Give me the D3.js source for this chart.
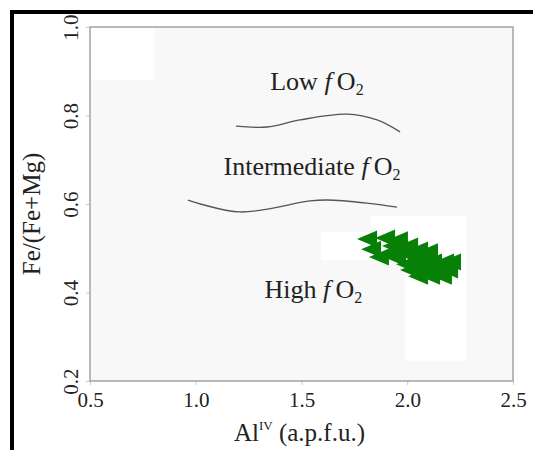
<!DOCTYPE html>
<html>
<head>
<meta charset="utf-8">
<script src="https://cdn.jsdelivr.net/npm/d3@7"></script>
<style>
  html, body { margin: 0; padding: 0; background: #fff; }
  svg { display: block; }
  text { font-family: "Liberation Serif", "Times New Roman", serif; fill: #222; }
</style>
</head>
<body>
<svg id="chart" width="533" height="450"></svg>
<script>
// ---- data ----
const xTicks = [0.5, 1.0, 1.5, 2.0, 2.5];
const yTicks = [0.2, 0.4, 0.6, 0.8, 1.0];
const xTickLabels = ["0.5", "1.0", "1.5", "2.0", "2.5"];
const yTickLabels = ["0.2", "0.4", "0.6", "0.8", "1.0"];

// sample points (Al IV, Fe/(Fe+Mg))
const sampleAl = [1.810, 1.829, 1.866, 1.895, 1.928, 1.909, 1.956, 1.975, 1.947, 2.004, 2.022, 2.051, 1.994, 2.041, 2.079, 2.098, 2.117, 2.070, 2.136, 2.174, 2.193, 2.108, 2.051, 2.164, 2.207, 2.013];
const sampleFe = [0.521, 0.498, 0.480, 0.523, 0.505, 0.487, 0.519, 0.496, 0.478, 0.505, 0.482, 0.496, 0.464, 0.464, 0.478, 0.492, 0.469, 0.451, 0.455, 0.469, 0.451, 0.437, 0.437, 0.437, 0.469, 0.451];

// boundary Low / Intermediate fO2
const upperLineX = [1.190, 1.337, 1.493, 1.715, 1.857, 1.966];
const upperLineY = [0.776, 0.774, 0.790, 0.803, 0.790, 0.763];
// boundary Intermediate / High fO2
const lowerLineX = [0.963, 1.209, 1.540, 1.621, 1.810, 1.952];
const lowerLineY = [0.609, 0.582, 0.607, 0.609, 0.602, 0.593];

// field labels
const fieldNames = ["Low ", "Intermediate ", "High "];
const fieldX = [1.573, 1.550, 1.556];
const fieldY = [0.858, 0.666, 0.388];

// ---- layout ----
const svg = d3.select("#chart");
const m = { left: 90, right: 513, top: 27, bottom: 381 };
const x = d3.scaleLinear().domain([0.5, 2.5]).range([m.left, m.right]);
const y = d3.scaleLinear().domain([0.2, 1.0]).range([m.bottom, m.top]);

// outer black frame (left & top)
svg.append("path")
  .attr("d", "M12,450 L12,12 L533,12")
  .attr("fill", "none").attr("stroke", "#000").attr("stroke-width", 4);

// plot background
svg.append("rect")
  .attr("x", m.left).attr("y", m.top)
  .attr("width", m.right - m.left).attr("height", m.bottom - m.top)
  .attr("fill", "#f8f8f8");

// lighter patches of the scanned background
const patchX0 = [0.5, 1.829, 1.592, 1.989];
const patchX1 = [0.805, 2.278, 2.278, 2.278];
const patchY0 = [0.88, 0.537, 0.473, 0.245];
const patchY1 = [1.0, 0.573, 0.537, 0.473];
patchX0.forEach((d, i) => {
  svg.append("rect")
    .attr("x", x(patchX0[i])).attr("y", y(patchY1[i]))
    .attr("width", x(patchX1[i]) - x(patchX0[i]))
    .attr("height", y(patchY0[i]) - y(patchY1[i]))
    .attr("fill", "#ffffff");
});

// axes
const xAxis = d3.axisBottom(x).tickValues(xTicks).tickFormat((d, i) => xTickLabels[i]).tickSize(4).tickPadding(8);
const yAxis = d3.axisLeft(y).tickValues(yTicks).tickFormat((d, i) => yTickLabels[i]).tickSize(4).tickPadding(8);

const gx = svg.append("g").attr("transform", `translate(0,${m.bottom})`).call(xAxis);
gx.select(".domain").remove();
gx.selectAll(".tick line").attr("stroke", "#c8c8c8");
gx.selectAll(".tick text")
  .attr("fill", "#222").attr("font-size", 21)
  .attr("font-family", "Liberation Serif, serif")
  .attr("dy", null).attr("y", 26);

const gy = svg.append("g").attr("transform", `translate(${m.left},0)`).call(yAxis);
gy.select(".domain").remove();
gy.selectAll(".tick line").attr("stroke", "#c8c8c8");
gy.selectAll(".tick text")
  .attr("fill", "#222").attr("font-size", 21)
  .attr("font-family", "Liberation Serif, serif")
  .attr("x", null).attr("dy", null)
  .attr("text-anchor", "middle")
  .attr("transform", "translate(-12,0) rotate(-90)");

// plot frame
svg.append("rect")
  .attr("x", m.left).attr("y", m.top)
  .attr("width", m.right - m.left).attr("height", m.bottom - m.top)
  .attr("fill", "none").attr("stroke", "#a8a8a8").attr("stroke-width", 1.6);

// boundary curves
const line = d3.line().x(d => x(d[0])).y(d => y(d[1])).curve(d3.curveCatmullRom.alpha(0.5));
svg.append("path")
  .attr("d", line(upperLineX.map((d, i) => [d, upperLineY[i]])))
  .attr("fill", "none").attr("stroke", "#555").attr("stroke-width", 1.3);
svg.append("path")
  .attr("d", line(lowerLineX.map((d, i) => [d, lowerLineY[i]])))
  .attr("fill", "none").attr("stroke", "#555").attr("stroke-width", 1.3);

// field labels
fieldNames.forEach((name, i) => {
  const t = svg.append("text")
    .attr("x", x(fieldX[i])).attr("y", y(fieldY[i]))
    .attr("text-anchor", "middle").attr("font-size", 26);
  t.append("tspan").text(name);
  t.append("tspan").attr("font-style", "italic").text("f");
  t.append("tspan").text("\u2009O");
  t.append("tspan").attr("font-size", 16).attr("dy", 5).text("2");
});

// sample markers: left-pointing triangles
const triW = 20, triH = 17;
svg.append("g").selectAll("path")
  .data(sampleAl.map((d, i) => [d, sampleFe[i]]))
  .join("path")
  .attr("transform", d => `translate(${x(d[0])},${y(d[1])})`)
  .attr("d", `M${-triW / 2},0 L${triW / 2},${-triH / 2} L${triW / 2},${triH / 2} Z`)
  .attr("fill", "#088008");

// axis titles
const xt = svg.append("text")
  .attr("x", (m.left + m.right) / 2 - 2).attr("y", 441)
  .attr("text-anchor", "middle").attr("font-size", 25);
xt.append("tspan").text("Al");
xt.append("tspan").attr("font-size", 13).attr("dy", -11).text("IV");
xt.append("tspan").attr("dy", 11).text(" (a.p.f.u.)");

svg.append("text")
  .attr("transform", `translate(40,${(m.top + m.bottom) / 2 + 10}) rotate(-90)`)
  .attr("text-anchor", "middle").attr("font-size", 25)
  .text("Fe/(Fe+Mg)");
</script>
</body>
</html>
